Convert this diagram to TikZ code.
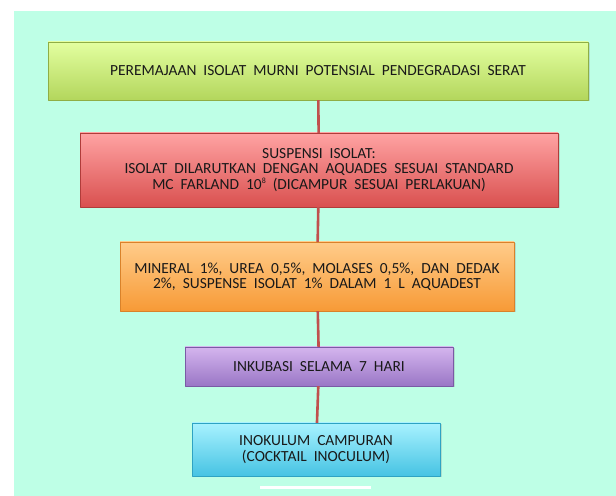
\documentclass[tikz,border=0pt]{standalone}
\usepackage{fontspec}
\setmainfont{Carlito}[WordSpace=2.0]
\usetikzlibrary{shadows}
\definecolor{mint}{HTML}{BEFFE6}
\definecolor{linkred}{HTML}{C0504D}
\definecolor{greentop}{HTML}{E3FFA0}
\definecolor{greenbot}{HTML}{B3D65C}
\definecolor{greenline}{HTML}{8FAE45}
\definecolor{redtop}{HTML}{FFA3A3}
\definecolor{redbot}{HTML}{D9504F}
\definecolor{redline}{HTML}{B03C3A}
\definecolor{orangetop}{HTML}{FFCC8A}
\definecolor{orangebot}{HTML}{F79A36}
\definecolor{orangeline}{HTML}{D9822A}
\definecolor{purpletop}{HTML}{D4B5EE}
\definecolor{purplebot}{HTML}{9A76C6}
\definecolor{purpleline}{HTML}{7A5AA5}
\definecolor{cyantop}{HTML}{A8F2FF}
\definecolor{cyanbot}{HTML}{46C3E3}
\definecolor{cyanline}{HTML}{2EA3C3}
\newcommand{\supeight}{\raisebox{0.35em}{\fontsize{8}{8}\selectfont 8}}
\tikzset{
  stepbox/.style={rectangle,inner sep=0pt,align=center,text=black!90,
    font=\fontsize{15.5}{15.5}\selectfont,
    drop shadow={opacity=0.25,shadow xshift=1.5bp,shadow yshift=-1.5bp}},
  greenbox/.style={stepbox,top color=greentop,bottom color=greenbot,draw=greenline},
  redbox/.style={stepbox,top color=redtop,bottom color=redbot,draw=redline},
  orangebox/.style={stepbox,top color=orangetop,bottom color=orangebot,draw=orangeline},
  purplebox/.style={stepbox,top color=purpletop,bottom color=purplebot,draw=purpleline},
  cyanbox/.style={stepbox,top color=cyantop,bottom color=cyanbot,draw=cyanline},
}
\begin{document}
\begin{tikzpicture}[line join=bevel,]
\useasboundingbox (0bp,0bp) rectangle (616bp,496bp);
\fill [white] (0bp,0bp) rectangle (616bp,496bp);
\fill [mint] (14bp,0bp) rectangle (616bp,485bp);
%%
\node (node_0) at (318bp,425bp) [greenbox,minimum width=540bp,minimum height=58bp] {PEREMAJAAN ISOLAT MURNI POTENSIAL PENDEGRADASI SERAT};
  \node (node_1) at (319bp,326bp) [redbox,minimum width=478bp,minimum height=74bp] {SUSPENSI ISOLAT:\\ ISOLAT DILARUTKAN DENGAN AQUADES SESUAI STANDARD\\ MC FARLAND 10\supeight{} (DICAMPUR SESUAI PERLAKUAN)};
  \node (node_2) at (317bp,219.5bp) [orangebox,minimum width=394bp,minimum height=69bp] {MINERAL 1\%, UREA 0,5\%, MOLASES 0,5\%, DAN DEDAK\\ 2\%, SUSPENSE ISOLAT 1\% DALAM 1 L AQUADEST};
  \node (node_3) at (319bp,129.5bp) [purplebox,minimum width=268bp,minimum height=39bp] {INKUBASI SELAMA 7 HARI};
  \node (node_4) at (316bp,46.5bp) [cyanbox,minimum width=248bp,minimum height=53bp] {INOKULUM CAMPURAN\\ (COCKTAIL INOCULUM)};
  \draw [linkred,line width=2.6bp] (node_0) -- (node_1);
  \draw [linkred,line width=2.6bp] (node_1) -- (node_2);
  \draw [linkred,line width=2.6bp] (node_2) -- (node_3);
  \draw [linkred,line width=2.6bp] (node_3) -- (node_4);
  \fill [white] (260bp,6.5bp) rectangle (371bp,9.5bp);
%
\end{tikzpicture}
\end{document}
